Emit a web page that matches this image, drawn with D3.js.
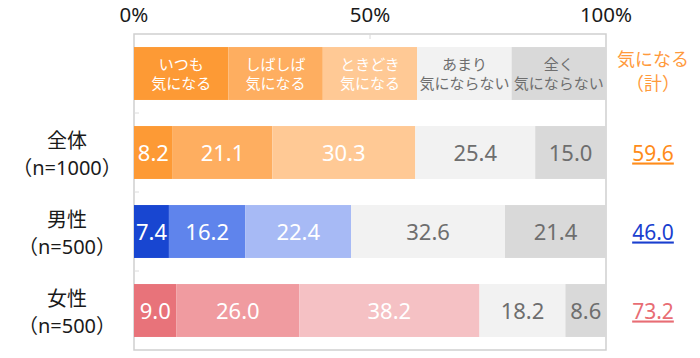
<!DOCTYPE html>
<html><head><meta charset="utf-8">
<script src="https://cdn.jsdelivr.net/npm/d3@7"></script>
<style>body{margin:0;background:#fff;}svg{display:block;}text{font-family:"Noto Sans","Noto Sans CJK JP",sans-serif;}</style>
</head><body><svg id="c" width="700" height="358"></svg>
<script>
const categories = ["header", "全体", "男性", "女性"];
const categoryLines = [[], ["全体", "（n=1000）"], ["男性", "（n=500）"], ["女性", "（n=500）"]];
const responses = ["いつも\n気になる", "しばしば\n気になる", "ときどき\n気になる", "あまり\n気にならない", "全く\n気にならない"];
const totalValues = [59.6, 46.0, 73.2];
const totalLabel = ["気になる", "（計）"];
const seriesAll = [8.2, 21.1, 30.3, 25.4, 15.0];
const seriesMale = [7.4, 16.2, 22.4, 32.6, 21.4];
const seriesFemale = [9.0, 26.0, 38.2, 18.2, 8.6];
const tickValues = [0, 50, 100];
const tickLabels = ["0%", "50%", "100%"];

const rows = [seriesAll, seriesMale, seriesFemale];
const headerColors = ["#fd9a35", "#feae60", "#ffc995", "#f2f2f2", "#d9d9d9"];
const rowColors = [
  ["#fd9a35", "#feae60", "#ffc995", "#f2f2f2", "#d9d9d9"],
  ["#1846d1", "#5f84ec", "#a7baf5", "#f2f2f2", "#d9d9d9"],
  ["#e8737a", "#f09ba0", "#f5c1c4", "#f2f2f2", "#d9d9d9"]
];
const textColors = ["#fff", "#fff", "#fff", "#6e6e6e", "#6e6e6e"];
const totalColors = ["#ff8c1a", "#1a3fcf", "#e86d74"];

const svg = d3.select("#c");
const L = 134, R = 606, T = 34, B = 350;
const x = d3.scaleLinear().domain([0, 100]).range([L, R]);
const y = d3.scaleBand().domain(categories).range([T, B]).paddingInner(0.33).paddingOuter(0.165);

// frame
svg.append("rect").attr("x", L).attr("y", T).attr("width", R - L).attr("height", B - T)
  .attr("fill", "none").attr("stroke", "#cfcfcf").attr("stroke-width", 1.5);
// top axis labels
svg.append("g").selectAll("text").data(tickValues).join("text")
  .attr("x", d => x(d)).attr("y", 22).attr("text-anchor", "middle")
  .attr("font-size", 20.5).attr("fill", "#1a1a1a").text((d, i) => tickLabels[i]);
svg.append("line").attr("x1", x(50)).attr("x2", x(50)).attr("y1", T).attr("y2", T + 5).attr("stroke", "#d8d8d8");
// left band ticks
const step = y.step();
svg.append("g").selectAll("line").data(d3.range(1, 4)).join("line")
  .attr("x1", L).attr("x2", L + 5).attr("y1", d => T + d * step).attr("y2", d => T + d * step).attr("stroke", "#dcdcdc");

// header band
const hdr = responses.map((r, i) => ({x0: i * 20, x1: (i + 1) * 20, label: r, i}));
const hg = svg.append("g");
hg.selectAll("rect").data(hdr).join("rect")
  .attr("x", d => x(d.x0)).attr("width", d => x(d.x1) - x(d.x0))
  .attr("y", y("header")).attr("height", y.bandwidth()).attr("fill", d => headerColors[d.i]);
hg.selectAll("text").data(hdr).join("text")
  .attr("text-anchor", "middle").attr("font-size", 15).attr("fill", d => textColors[d.i])
  .style("font-family", '"Noto Sans CJK JP", sans-serif')
  .each(function(d) {
    const lines = d.label.split("\n");
    const cx = (x(d.x0) + x(d.x1)) / 2;
    const cy = y("header") + y.bandwidth() / 2;
    d3.select(this).selectAll("tspan").data(lines).join("tspan")
      .attr("x", cx).attr("y", (l, j) => cy - 4 + j * 19).text(l => l);
  });
// right header label
svg.append("g").selectAll("text").data(totalLabel).join("text")
  .attr("text-anchor", "middle").attr("font-size", 18).attr("fill", "#ff9a3c")
  .style("font-family", '"Noto Sans CJK JP", sans-serif')
  .attr("x", 653).attr("y", (d, j) => y("header") + y.bandwidth() / 2 - 8 + j * 24).text(d => d);

// data rows
rows.forEach((vals, ri) => {
  const cat = categories[ri + 1];
  let c = 0;
  const segs = vals.map((v, i) => { const s = {x0: c, x1: c + v, v, i}; c += v; return s; });
  const g = svg.append("g");
  g.selectAll("rect").data(segs).join("rect")
    .attr("x", d => x(d.x0)).attr("width", d => x(d.x1) - x(d.x0))
    .attr("y", y(cat)).attr("height", y.bandwidth()).attr("fill", d => rowColors[ri][d.i]);
  g.selectAll("text").data(segs).join("text")
    .attr("x", d => (x(d.x0) + x(d.x1)) / 2).attr("y", y(cat) + y.bandwidth() / 2 + 8)
    .attr("text-anchor", "middle").attr("font-size", 22).attr("fill", d => textColors[d.i])
    .text(d => d.v.toFixed(1));
  // category label
  svg.append("g").selectAll("text").data(categoryLines[ri + 1]).join("text")
    .attr("text-anchor", "middle").attr("font-size", 20).attr("fill", "#1a1a1a")
    .attr("x", 67).attr("y", (d, j) => y(cat) + y.bandwidth() / 2 - 5 + j * 27).text(d => d);
  // total
  svg.append("text").attr("x", 653).attr("y", y(cat) + y.bandwidth() / 2 + 8)
    .attr("text-anchor", "middle").attr("font-size", 21).attr("fill", totalColors[ri])
    .attr("text-decoration", "underline").text(totalValues[ri].toFixed(1));
});
</script></body></html>
